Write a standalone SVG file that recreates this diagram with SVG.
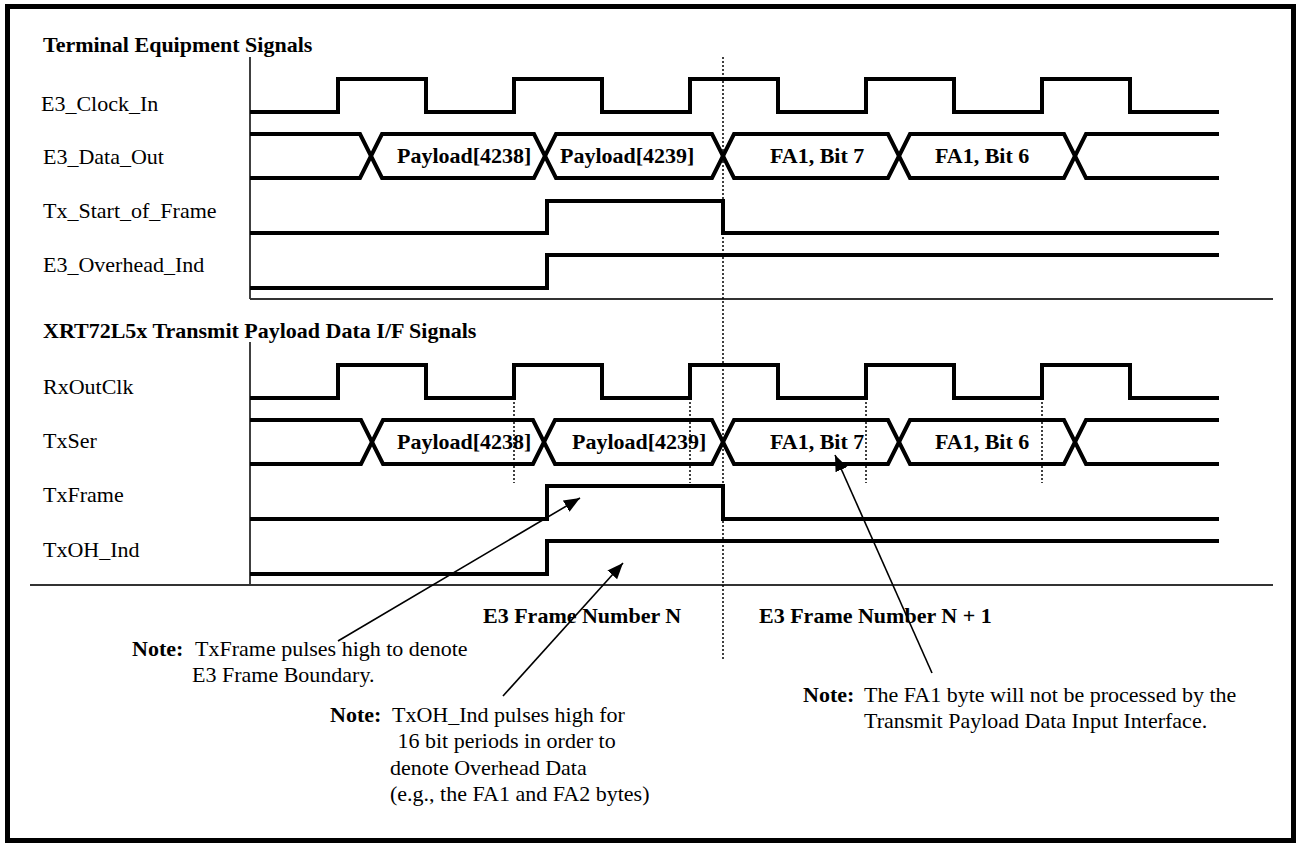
<svg xmlns="http://www.w3.org/2000/svg" width="1299" height="843" viewBox="0 0 1299 843">
<defs>
<style>
text{font-family:"Liberation Serif","Times New Roman",serif;font-size:22px;fill:#000}
.b{font-weight:bold}
.wave{fill:none;stroke:#000;stroke-width:4;stroke-linejoin:miter}
.axis{fill:none;stroke:#000;stroke-width:1.5}
.rule{fill:none;stroke:#333;stroke-width:1.8}
.dot{fill:none;stroke:#000;stroke-width:1.5;stroke-dasharray:2 2}
.arr{fill:none;stroke:#000;stroke-width:1.6;marker-end:url(#ah)}
</style>
<marker id="ah" markerUnits="userSpaceOnUse" markerWidth="18" markerHeight="14" refX="16" refY="6.5" orient="auto">
<path d="M0,0 L16,6.5 L0,13 z" fill="#000"/>
</marker>
</defs>
<rect x="7.5" y="6.5" width="1286" height="834" fill="#fff" stroke="#000" stroke-width="5"/>

<g id="frame">
<text class="b" x="43" y="52">Terminal Equipment Signals</text>
<text class="b" x="43" y="338">XRT72L5x Transmit Payload Data I/F Signals</text>
<path class="axis" d="M250,57 V299"/>
<path class="rule" d="M250,299 H1273"/>
<path class="axis" d="M250,342 V585"/>
<path class="rule" d="M30,585 H1273"/>
</g>

<g id="e3-clock-in">
<text x="41" y="111">E3_Clock_In</text>
<path class="wave" d="M250,112 H338 V79 H426 V112 H514 V79 H602 V112 H690 V79 H778 V112 H866 V79 H954 V112 H1042 V79 H1130 V112 H1219"/>
</g>

<g id="e3-data-out">
<text x="43" y="164">E3_Data_Out</text>
<path class="wave" d="M250,134 H360 L382,178 H534 L556,134 H712 L734,178 H888 L910,134 H1064 L1086,178 H1219"/>
<path class="wave" d="M250,178 H360 L382,134 H534 L556,178 H712 L734,134 H888 L910,178 H1064 L1086,134 H1219"/>
<text class="b" x="397" y="163">Payload[4238]</text>
<text class="b" x="560" y="163">Payload[4239]</text>
<text class="b" x="770" y="163">FA1, Bit 7</text>
<text class="b" x="935" y="163">FA1, Bit 6</text>
</g>

<g id="tx-start-of-frame">
<text x="43" y="218">Tx_Start_of_Frame</text>
<path class="wave" d="M250,233 H547 V201 H723 V233 H1219"/>
</g>

<g id="e3-overhead-ind">
<text x="43" y="272">E3_Overhead_Ind</text>
<path class="wave" d="M250,288 H547 V255 H1219"/>
</g>

<g id="rxoutclk">
<text x="43" y="394">RxOutClk</text>
<path class="wave" d="M250,398 H338 V365 H426 V398 H514 V365 H602 V398 H690 V365 H778 V398 H866 V365 H954 V398 H1042 V365 H1130 V398 H1219"/>
</g>

<g id="txser">
<text x="43" y="448">TxSer</text>
<path class="wave" d="M250,420 H361 L383,464 H533 L555,420 H712 L734,464 H888 L910,420 H1064 L1086,464 H1219"/>
<path class="wave" d="M250,464 H361 L383,420 H533 L555,464 H712 L734,420 H888 L910,464 H1064 L1086,420 H1219"/>
<text class="b" x="397" y="449">Payload[4238]</text>
<text class="b" x="572" y="449">Payload[4239]</text>
<text class="b" x="770" y="449">FA1, Bit 7</text>
<text class="b" x="935" y="449">FA1, Bit 6</text>
</g>

<g id="txframe">
<text x="43" y="502">TxFrame</text>
<path class="wave" d="M250,519 H547 V486 H723 V519 H1219"/>
</g>

<g id="txoh-ind">
<text x="43" y="557">TxOH_Ind</text>
<path class="wave" d="M250,574 H547 V541 H1219"/>
</g>

<g id="markers">
<path class="dot" d="M723,57 V660"/>
<path class="dot" d="M514,398 V483 M690,398 V483 M866,398 V483 M1042,398 V483"/>
</g>

<g id="frame-labels">
<text class="b" x="483" y="623">E3 Frame Number N</text>
<text class="b" x="759" y="623">E3 Frame Number N + 1</text>
</g>

<g id="note-txframe">
<text class="b" x="132" y="656">Note:</text>
<text x="195" y="656">TxFrame pulses high to denote</text>
<text x="192" y="682">E3 Frame Boundary.</text>
</g>

<g id="note-txoh">
<text class="b" x="330" y="722">Note:</text>
<text x="392" y="722">TxOH_Ind pulses high for</text>
<text x="392" y="748" xml:space="preserve"> 16 bit periods in order to</text>
<text x="390" y="775">denote Overhead Data</text>
<text x="390" y="801">(e.g., the FA1 and FA2 bytes)</text>
</g>

<g id="note-fa1">
<text class="b" x="803" y="702">Note:</text>
<text x="864" y="702">The FA1 byte will not be processed by the</text>
<text x="864" y="728">Transmit Payload Data Input Interface.</text>
</g>

<g id="connectors">
<path class="arr" d="M338,641 L580,498"/>
<path class="arr" d="M503,696 L623,563"/>
<path class="arr" d="M932,673 L835,455"/>
</g>
</svg>
